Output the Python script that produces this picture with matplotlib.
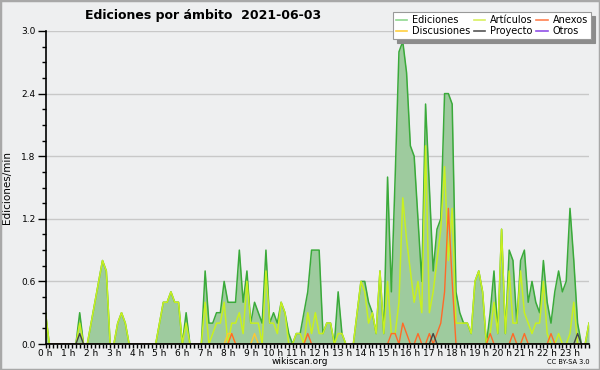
"""Ediciones por ámbito, 2021-06-03 (wikiscan style)."""

import matplotlib
matplotlib.use("Agg")
import matplotlib.pyplot as plt
from matplotlib.patches import Rectangle
import numpy as np

# ediciones/min per 10-minute slot, one row per hour
ediciones = [
    0.3, 0, 0, 0, 0, 0,
    0, 0, 0, 0.3, 0, 0,
    0.2, 0.4, 0.6, 0.8, 0.7, 0,
    0, 0.2, 0.3, 0.2, 0, 0,
    0, 0, 0, 0, 0, 0,
    0.2, 0.4, 0.4, 0.5, 0.4, 0.4,
    0, 0.3, 0, 0, 0, 0,
    0.7, 0.2, 0.2, 0.3, 0.3, 0.6,
    0.4, 0.4, 0.4, 0.9, 0.4, 0.7,
    0.2, 0.4, 0.3, 0.2, 0.9, 0.2,
    0.3, 0.2, 0.4, 0.3, 0.1, 0,
    0.1, 0.1, 0.3, 0.5, 0.9, 0.9,
    0.9, 0.1, 0.2, 0.2, 0, 0.5,
    0.1, 0, 0, 0, 0.3, 0.6,
    0.6, 0.4, 0.3, 0.1, 0.7, 0.1,
    1.6, 0.5, 1.6, 2.8, 2.9, 2.6,
    1.9, 1.8, 1.2, 0.6, 2.3, 1.5,
    0.7, 1.1, 1.2, 2.4, 2.4, 2.3,
    0.5, 0.3, 0.2, 0.2, 0.1, 0.6,
    0.7, 0.5, 0, 0.3, 0.7, 0.1,
    1.1, 0.1, 0.9, 0.8, 0.2, 0.8,
    0.9, 0.4, 0.6, 0.4, 0.3, 0.8,
    0.4, 0.2, 0.5, 0.7, 0.5, 0.6,
    1.3, 0.8, 0.2, 0, 0, 0.2,
]
articulos = [
    0.3, 0, 0, 0, 0, 0,
    0, 0, 0, 0.2, 0, 0,
    0.2, 0.4, 0.6, 0.8, 0.7, 0,
    0, 0.2, 0.3, 0.2, 0, 0,
    0, 0, 0, 0, 0, 0,
    0.2, 0.4, 0.4, 0.5, 0.4, 0.4,
    0, 0.2, 0, 0, 0, 0,
    0.4, 0, 0.1, 0.2, 0.2, 0.4,
    0, 0.2, 0.2, 0.3, 0.1, 0.6,
    0.2, 0.2, 0.2, 0, 0.7, 0.2,
    0.2, 0.1, 0.4, 0.3, 0, 0,
    0.1, 0.1, 0, 0.3, 0.1, 0.3,
    0.1, 0.1, 0.2, 0.2, 0, 0.1,
    0.1, 0, 0, 0, 0.3, 0.6,
    0.5, 0.2, 0.3, 0.1, 0.7, 0.1,
    0.6, 0.1, 0.1, 0.4, 1.4, 1.0,
    0.7, 0.4, 0.6, 0.3, 1.9, 0.3,
    0.5, 0.8, 1.1, 1.7, 0.8, 1.3,
    0.2, 0.2, 0.2, 0.2, 0.1, 0.6,
    0.7, 0.5, 0, 0.1, 0.4, 0.1,
    1.1, 0.1, 0.7, 0.2, 0.2, 0.7,
    0.3, 0.2, 0.1, 0.2, 0.2, 0.6,
    0.1, 0, 0, 0.1, 0, 0,
    0.1, 0.4, 0, 0, 0, 0.2,
]
anexos = [
    0, 0, 0, 0, 0, 0,
    0, 0, 0, 0, 0, 0,
    0, 0, 0, 0, 0, 0,
    0, 0, 0, 0, 0, 0,
    0, 0, 0, 0, 0, 0,
    0, 0, 0, 0, 0, 0,
    0, 0, 0, 0, 0, 0,
    0, 0, 0, 0, 0, 0,
    0, 0.1, 0, 0, 0, 0,
    0, 0, 0, 0, 0, 0,
    0, 0, 0, 0, 0, 0,
    0, 0, 0, 0.1, 0, 0,
    0, 0, 0, 0, 0, 0,
    0, 0, 0, 0, 0, 0,
    0, 0, 0, 0, 0, 0,
    0, 0.1, 0.1, 0, 0.2, 0.1,
    0, 0, 0.1, 0, 0, 0.1,
    0, 0.1, 0.2, 0.5, 1.3, 0.6,
    0, 0, 0, 0, 0, 0,
    0, 0, 0, 0.1, 0, 0,
    0, 0, 0, 0.1, 0, 0,
    0.1, 0, 0, 0, 0, 0,
    0, 0.1, 0, 0, 0, 0,
    0, 0, 0, 0, 0, 0,
]
discusiones = [0] * 144
discusiones[48] = 0.1
discusiones[49] = 0.1
discusiones[55] = 0.1
proyecto = [0] * 144
proyecto[9] = 0.1
proyecto[102] = 0.1
proyecto[140] = 0.1
otros = [0] * 144

hours = [f"{h} h" for h in range(24)]

BG = "#eeeff0"
colors = {
    "Ediciones": "#3aaa3a",
    "Artículos": "#c8f020",
    "Anexos": "#ff6a28",
    "Discusiones": "#ffc830",
    "Proyecto": "#444444",
    "Otros": "#9040e0",
}
legend_colors = {
    "Ediciones": "#90d890",
    "Artículos": "#d8f060",
    "Anexos": "#ff8050",
    "Discusiones": "#ffd040",
    "Proyecto": "#555555",
    "Otros": "#9050e8",
}

x = np.arange(len(ediciones)) / 6.0

fig = plt.figure(figsize=(6, 3.7), dpi=100, facecolor=BG)
fig.patches.append(Rectangle((0, 0), 1, 1, transform=fig.transFigure,
                             fill=False, edgecolor="#a8a8a8", linewidth=2.5))
ax = fig.add_axes([45.5 / 600, 26 / 370, 543.5 / 600, 313 / 370])
ax.set_facecolor(BG)

ax.fill_between(x, ediciones, color="#9ecb9e", linewidth=0)
ax.plot(x, ediciones, color=colors["Ediciones"], linewidth=1.1)
ax.plot(x, articulos, color=colors["Artículos"], linewidth=1.1)
ax.plot(x, discusiones, color=colors["Discusiones"], linewidth=1.0)
ax.plot(x, anexos, color=colors["Anexos"], linewidth=1.0)
ax.plot(x, proyecto, color=colors["Proyecto"], linewidth=1.0)
ax.plot(x, otros, color=colors["Otros"], linewidth=1.0, alpha=0)

ax.set_xlim(0, x[-1])
ax.set_ylim(0, 3.0)
ax.set_yticks(np.arange(0, 3.01, 0.6))
ax.set_yticklabels([f"{v:.1f}" for v in np.arange(0, 3.01, 0.6)])
ax.set_yticks(np.arange(0, 3.01, 0.15), minor=True)
ax.set_xticks(range(24))
ax.set_xticklabels(hours)
ax.set_xticks(x, minor=True)
ax.tick_params(axis="y", which="major", length=6, width=1, labelsize=6.5, pad=1)
ax.tick_params(axis="y", which="minor", length=3, width=1)
ax.tick_params(axis="x", which="both", length=3, width=1, labelsize=6.5, pad=0.5)
ax.grid(axis="y", color="#c8c8c8", linewidth=1)
ax.set_axisbelow(True)
for side in ("top", "right"):
    ax.spines[side].set_visible(False)
for side in ("left", "bottom"):
    ax.spines[side].set_linewidth(1.2)

ax.set_ylabel("Ediciones/min", fontsize=7.5, labelpad=7)
fig.text(85 / 600, 1 - 15 / 370, "Ediciones por ámbito  2021-06-03",
         fontsize=9, fontweight="bold", ha="left", va="center")
fig.text(300 / 600, 1 - 362 / 370, "wikiscan.org", fontsize=6.5,
         ha="center", va="center")
fig.text(590 / 600, 1 - 362 / 370, "CC BY-SA 3.0", fontsize=4.8,
         ha="right", va="center")

order = ["Ediciones", "Discusiones", "Artículos", "Proyecto", "Anexos", "Otros"]
handles = [plt.Line2D([], [], color=legend_colors[n], linewidth=1.2) for n in order]
leg = fig.legend(handles, order, loc="upper right",
                 bbox_to_anchor=(591 / 600, 1 - 12 / 370), ncol=3,
                 fontsize=7, frameon=True, fancybox=False,
                 shadow={"ox": 3, "oy": -3, "color": "#8c8c8c", "alpha": 1},
                 handlelength=1.2, handletextpad=0.5, columnspacing=0.35,
                 labelspacing=0.15, borderpad=0.3, borderaxespad=0)
leg.get_frame().set_edgecolor("#999999")
leg.get_frame().set_linewidth(0.8)

fig.savefig("out.png", dpi=100, facecolor=BG)
